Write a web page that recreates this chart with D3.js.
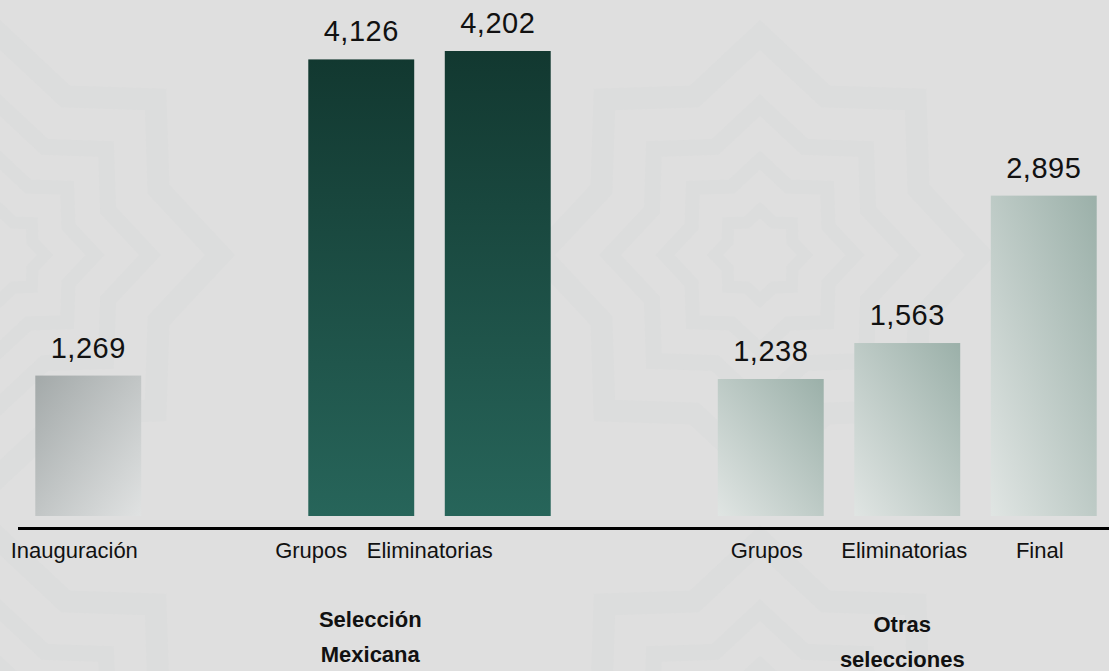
<!DOCTYPE html>
<html>
<head>
<meta charset="utf-8">
<script src="https://cdn.jsdelivr.net/npm/d3@7"></script>
<style>
  html, body { margin: 0; padding: 0; background: #dfdfdf; }
  svg { display: block; }
  text { font-family: "Liberation Sans", Arial, sans-serif; fill: #111; }
</style>
</head>
<body>
<svg id="chart" width="1109" height="671"></svg>
<script>
  "use strict";
  // slots of the x axis, empty ones are just spacers between groups
  var slots = ["Inauguración", "gap1", "MX Grupos", "MX Eliminatorias", "gap2", "OT Grupos", "OT Eliminatorias", "OT Final"];
  var barKeys = ["Inauguración", "MX Grupos", "MX Eliminatorias", "OT Grupos", "OT Eliminatorias", "OT Final"];
  var barLabels = ["Inauguración", "Grupos", "Eliminatorias", "Grupos", "Eliminatorias", "Final"];
  var barValues = [1269, 4126, 4202, 1238, 1563, 2895];
  var barStyle = ["grey", "dark", "dark", "light", "light", "light"];
  var groupNames = [["Selección", "Mexicana"], ["Otras", "selecciones"]];

  var W = 1109, H = 671;
  var svg = d3.select("#chart");
  var defs = svg.append("defs");

  // background textile motif, very faint
  var bg = svg.append("g").attr("fill", "none").attr("stroke", "#dcdddd");
  function star(cx, cy, r, sw) {
    var pts = [];
    for (var i = 0; i < 16; i++) {
      var a = Math.PI / 8 * i - Math.PI / 2;
      var rr = (i % 2 == 0) ? r : r * 0.78;
      pts.push([cx + rr * Math.cos(a), cy + rr * Math.sin(a)]);
    }
    bg.append("polygon").attr("points", pts.map(function(p){ return p.join(","); }).join(" "))
      .attr("stroke-width", sw);
  }
  [[760, 255], [0, 255], [760, 760], [0, 760]].forEach(function(c){
    star(c[0], c[1], 45, 12);
    star(c[0], c[1], 95, 14);
    star(c[0], c[1], 150, 16);
    star(c[0], c[1], 220, 22);
  });

  // gradients
  var g1 = defs.append("linearGradient").attr("id", "grad-grey")
    .attr("x1", 0).attr("y1", 0).attr("x2", 1).attr("y2", 1);
  g1.append("stop").attr("offset", "0%").attr("stop-color", "#a3a9a9");
  g1.append("stop").attr("offset", "100%").attr("stop-color", "#e0e2e2");

  var g2 = defs.append("linearGradient").attr("id", "grad-dark")
    .attr("x1", 0).attr("y1", 0).attr("x2", 0).attr("y2", 1);
  g2.append("stop").attr("offset", "0%").attr("stop-color", "#123830");
  g2.append("stop").attr("offset", "100%").attr("stop-color", "#27655a");

  var g3 = defs.append("linearGradient").attr("id", "grad-light")
    .attr("x1", 0).attr("y1", 1).attr("x2", 1).attr("y2", 0);
  g3.append("stop").attr("offset", "0%").attr("stop-color", "#e0e5e3");
  g3.append("stop").attr("offset", "100%").attr("stop-color", "#9bb0a9");

  var x = d3.scaleBand().domain(slots).range([20, 1112])
    .paddingInner(0.224).paddingOuter(0.112);
  var y = d3.scaleLinear().domain([0, 4202]).range([516, 51]);

  var bars = barKeys.map(function(k, i){
    return { key: k, label: barLabels[i], value: barValues[i], style: barStyle[i] };
  });

  svg.append("g").selectAll("rect").data(bars).enter().append("rect")
    .attr("x", function(d){ return x(d.key); })
    .attr("y", function(d){ return y(d.value); })
    .attr("width", x.bandwidth())
    .attr("height", function(d){ return y(0) - y(d.value); })
    .attr("fill", function(d){ return "url(#grad-" + d.style + ")"; });

  // value labels
  svg.append("g").selectAll("text").data(bars).enter().append("text")
    .attr("x", function(d){ return x(d.key) + x.bandwidth() / 2; })
    .attr("y", function(d){ return y(d.value) - 18; })
    .attr("text-anchor", "middle")
    .style("font-size", "29px")
    .style("letter-spacing", "0.5px")
    .text(function(d){ return d3.format(",")(d.value); });

  // axis line
  svg.append("line")
    .attr("x1", 18).attr("x2", W)
    .attr("y1", 528.5).attr("y2", 528.5)
    .attr("stroke", "#000").attr("stroke-width", 3);

  // category labels (text boxes are not centred on the bars in the source)
  var labelShift = { "Inauguración": -14, "MX Grupos": -50, "MX Eliminatorias": -68,
                     "OT Grupos": -4, "OT Eliminatorias": -3, "OT Final": -4 };
  svg.append("g").selectAll("text").data(bars).enter().append("text")
    .attr("x", function(d){ return x(d.key) + x.bandwidth() / 2 + labelShift[d.key]; })
    .attr("y", 558)
    .attr("text-anchor", "middle")
    .style("font-size", "22px")
    .text(function(d){ return d.label; });

  // group labels
  var groupX = [x("MX Grupos") + x.bandwidth() / 2 + 9, x("OT Eliminatorias") + x.bandwidth() / 2 - 5];
  var groupY = [627, 632];
  groupNames.forEach(function(lines, i){
    var t = svg.append("text")
      .attr("x", groupX[i]).attr("y", groupY[i])
      .attr("text-anchor", "middle")
      .style("font-size", "22px")
      .style("font-weight", "bold");
    lines.forEach(function(s, j){
      t.append("tspan").attr("x", groupX[i]).attr("dy", j == 0 ? 0 : 35).text(s);
    });
  });
</script>
</body>
</html>
